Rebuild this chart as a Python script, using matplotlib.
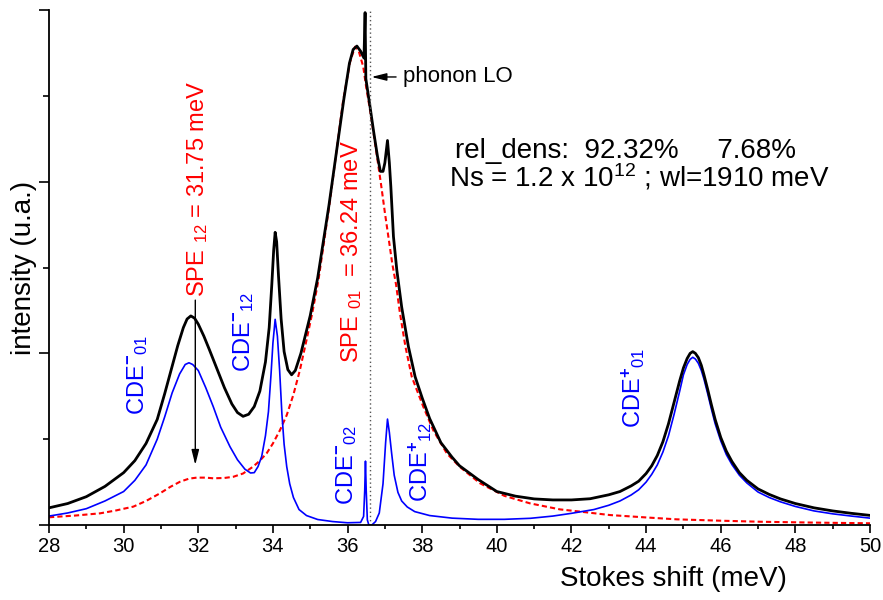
import matplotlib
matplotlib.use("Agg")
import matplotlib.pyplot as plt
from matplotlib.ticker import MultipleLocator, NullFormatter

plt.rcParams['font.family'] = ['Liberation Sans', 'DejaVu Sans']
plt.rcParams['mathtext.fontset'] = 'custom'
plt.rcParams['mathtext.rm'] = 'Liberation Sans'
plt.rcParams['mathtext.it'] = 'Liberation Sans:italic'
plt.rcParams['mathtext.bf'] = 'Liberation Sans:bold'

# total spectrum (black)
black_x = [28.0, 28.5, 29.0, 29.5, 30.0, 30.3, 30.6, 30.9, 31.1, 31.3, 31.45, 31.6, 31.7, 31.8,
           31.9, 32.0, 32.15, 32.3, 32.5, 32.7, 32.9, 33.05, 33.2, 33.35, 33.5, 33.65, 33.8, 33.9,
           33.97, 34.02, 34.06, 34.1, 34.15, 34.22, 34.3, 34.4, 34.5, 34.6, 34.75, 35.0, 35.2,
           35.5, 35.7, 35.9, 36.05, 36.15, 36.25, 36.35, 36.44, 36.47, 36.49, 36.6, 36.7,
           36.8, 36.88, 36.95, 37.0, 37.07, 37.12, 37.16, 37.23, 37.32, 37.45, 37.63, 37.81, 38.0,
           38.2, 38.5, 38.8, 39.0, 39.5, 40.0, 40.5, 41.0, 41.5, 42.0, 42.5, 43.0, 43.3, 43.6,
           43.8, 44.0, 44.15, 44.3, 44.45, 44.6, 44.75, 44.9, 45.0, 45.1, 45.18, 45.25, 45.32,
           45.4, 45.48, 45.55, 45.65, 45.75, 45.85, 46.0, 46.15, 46.3, 46.5, 46.7, 47.0, 47.3,
           47.6, 48.0, 48.5, 49.0, 49.5, 50.0]
black_y = [0.100, 0.125, 0.165, 0.225, 0.305, 0.375, 0.475, 0.615, 0.765, 0.925, 1.045, 1.150,
           1.200, 1.218, 1.205, 1.170, 1.100, 1.020, 0.910, 0.800, 0.705, 0.655, 0.633, 0.645,
           0.690, 0.780, 0.950, 1.150, 1.400, 1.600, 1.705, 1.650, 1.450, 1.200, 1.010, 0.905,
           0.875, 0.900, 1.000, 1.220, 1.440, 1.860, 2.170, 2.480, 2.690, 2.770, 2.790, 2.760,
           2.720, 2.985, 2.600, 2.440, 2.290, 2.150, 2.060, 2.060, 2.110, 2.240, 2.110,
           1.970, 1.680, 1.485, 1.270, 1.040, 0.864, 0.740, 0.620, 0.480, 0.395, 0.345, 0.265,
           0.195, 0.168, 0.152, 0.146, 0.146, 0.153, 0.176, 0.195, 0.228, 0.255, 0.300, 0.345,
           0.405, 0.485, 0.590, 0.715, 0.840, 0.915, 0.970, 1.000, 1.010, 1.000, 0.975, 0.930,
           0.875, 0.790, 0.700, 0.615, 0.510, 0.430, 0.370, 0.305, 0.260, 0.210, 0.178, 0.152,
           0.125, 0.100, 0.082, 0.068, 0.056]

# coupled density excitations (blue)
blue_x = [28.0, 28.5, 29.0, 29.5, 30.0, 30.3, 30.6, 30.9, 31.1, 31.3, 31.5, 31.65, 31.75, 31.85,
          32.0, 32.2, 32.4, 32.6, 32.85, 33.05, 33.25, 33.4, 33.5, 33.6, 33.7, 33.8, 33.88, 33.95,
          34.0, 34.06, 34.12, 34.18, 34.24, 34.3, 34.37, 34.45, 34.55, 34.7, 34.9, 35.2, 35.6,
          36.0, 36.35, 36.43, 36.46, 36.48, 36.5, 36.53, 36.57, 36.65, 36.75, 36.85, 36.95, 37.02,
          37.07, 37.12, 37.18, 37.25, 37.35, 37.45, 37.6, 37.8, 38.2, 38.8, 39.5, 40.2, 40.9,
          41.5, 42.0, 42.6, 43.0, 43.3, 43.6, 43.8, 44.0, 44.15, 44.3, 44.45, 44.6, 44.75, 44.9,
          45.0, 45.1, 45.18, 45.25, 45.32, 45.4, 45.48, 45.55, 45.65, 45.75, 45.85, 46.0, 46.15,
          46.3, 46.5, 46.7, 47.0, 47.3, 47.6, 48.0, 48.5, 49.0, 49.5, 50.0]
blue_y = [0.052, 0.070, 0.095, 0.140, 0.195, 0.260, 0.350, 0.500, 0.630, 0.770, 0.880, 0.935,
          0.945, 0.935, 0.900, 0.800, 0.690, 0.570, 0.456, 0.380, 0.325, 0.303, 0.305, 0.340,
          0.400, 0.520, 0.660, 0.880, 1.060, 1.198, 1.100, 0.900, 0.650, 0.470, 0.340, 0.240,
          0.160, 0.090, 0.055, 0.032, 0.020, 0.013, 0.015, 0.050, 0.200, 0.372, 0.200, 0.030,
          0.000, 0.000, 0.020, 0.070, 0.240, 0.480, 0.617, 0.540, 0.420, 0.290, 0.190, 0.140,
          0.105, 0.078, 0.055, 0.040, 0.033, 0.033, 0.039, 0.052, 0.068, 0.090, 0.115, 0.140,
          0.175, 0.205, 0.250, 0.295, 0.350, 0.425, 0.520, 0.645, 0.780, 0.875, 0.935, 0.965,
          0.977, 0.967, 0.942, 0.900, 0.850, 0.765, 0.675, 0.590, 0.490, 0.410, 0.352, 0.290,
          0.245, 0.192, 0.160, 0.135, 0.108, 0.082, 0.065, 0.052, 0.040]

# single particle excitations (red dashed)
red_x = [28.0, 28.7, 29.37, 29.8, 30.26, 30.6, 30.97, 31.25, 31.51, 31.75, 31.96, 32.2, 32.4,
         32.7, 32.94, 33.2, 33.47, 33.65, 33.83, 34.0, 34.19, 34.37, 34.55, 34.72, 34.9, 35.05,
         35.22, 35.53, 35.88, 36.07, 36.2, 36.3, 36.42, 36.5, 36.6, 36.7, 36.8, 36.9, 37.0,
         37.1, 37.2, 37.3, 37.4, 37.55, 37.72, 37.85, 38.03, 38.3, 38.66, 39.0, 39.55, 40.2,
         40.89, 41.69, 42.23, 43.03, 44.0, 44.82, 46.0, 47.05, 48.5, 50.0]
red_y = [0.045, 0.055, 0.068, 0.085, 0.107, 0.140, 0.184, 0.222, 0.252, 0.270, 0.276, 0.276,
         0.272, 0.274, 0.281, 0.300, 0.340, 0.375, 0.417, 0.475, 0.553, 0.640, 0.760, 0.900,
         1.077, 1.230, 1.427, 1.890, 2.470, 2.700, 2.786, 2.760, 2.670, 2.550, 2.420, 2.280,
         2.130, 1.980, 1.820, 1.670, 1.520, 1.400, 1.240, 1.040, 0.864, 0.790, 0.689, 0.550,
         0.417, 0.340, 0.243, 0.170, 0.126, 0.091, 0.078, 0.058, 0.044, 0.033, 0.025, 0.019,
         0.014, 0.010]

phonon_lo = 36.6

fig = plt.figure(figsize=(8.83, 6.0), dpi=100)
ax = fig.add_axes([0.0555, 0.125, 0.9298, 0.8583])

ax.plot(red_x, red_y, color='#FF0000', lw=1.5, ls=(0, (2.5, 1.5)))
ax.plot(blue_x, blue_y, color='#0000FF', lw=1.2)
ax.plot(black_x, black_y, color='black', lw=2.0, solid_joinstyle='round')
ax.axvline(phonon_lo, color='#555555', lw=1.0, ls=(0, (1, 2)))

ax.set_xlim(28, 50)
ax.set_ylim(0, 3)
ax.spines['top'].set_visible(False)
ax.spines['right'].set_visible(False)
for s in ['left', 'bottom']:
    ax.spines[s].set_linewidth(1.3)

ax.xaxis.set_major_locator(MultipleLocator(2))
ax.xaxis.set_minor_locator(MultipleLocator(1))
ax.yaxis.set_major_locator(MultipleLocator(1))
ax.yaxis.set_minor_locator(MultipleLocator(0.5))
ax.yaxis.set_major_formatter(NullFormatter())
ax.tick_params(axis='x', which='major', length=6, width=1.2, labelsize=14.5, pad=3)
ax.tick_params(axis='x', which='minor', length=3, width=1.2)
ax.tick_params(axis='y', which='major', length=7.5, width=1.2)
ax.tick_params(axis='y', which='minor', length=4.5, width=1.2)

ax.set_xlabel("Stokes shift (meV)", fontsize=20)
ax.xaxis.set_label_coords(0.76, -0.08)
ax.set_ylabel("intensity (u.a.)", fontsize=20)
ax.yaxis.set_label_coords(-0.015, 0.5)

red = '#FF0000'
blue = '#0000FF'
ax.text(31.99, 1.33, r"SPE $_{\mathregular{12}}$ = 31.75 meV", color=red, fontsize=17,
        rotation=90, ha='center', va='bottom')
ax.text(36.12, 0.944, r"SPE $_{\mathregular{01}}$  = 36.24 meV", color=red, fontsize=17,
        rotation=90, ha='center', va='bottom')

ax.text(30.36, 0.64, r"CDE$^{\mathbf{-}}$$_{\mathregular{01}}$", color=blue, fontsize=17,
        rotation=90, ha='center', va='bottom')
ax.text(33.2, 0.89, r"CDE$^{\mathbf{-}}$$_{\mathregular{12}}$", color=blue, fontsize=17,
        rotation=90, ha='center', va='bottom')
ax.text(35.96, 0.116, r"CDE$^{\mathbf{-}}$$_{\mathregular{02}}$", color=blue, fontsize=17,
        rotation=90, ha='center', va='bottom')
ax.text(37.94, 0.134, r"CDE$^{\mathbf{+}}$$_{\mathregular{12}}$", color=blue, fontsize=17,
        rotation=90, ha='center', va='bottom')
ax.text(43.65, 0.565, r"CDE$^{\mathbf{+}}$$_{\mathregular{01}}$", color=blue, fontsize=17,
        rotation=90, ha='center', va='bottom')

arrow = dict(arrowstyle='-|>,head_length=0.6,head_width=0.15', color='black', lw=1.0,
             mutation_scale=15, shrinkA=0, shrinkB=0)
ax.annotate("", xy=(31.92, 0.35), xytext=(31.92, 1.31), arrowprops=arrow)
ax.annotate("", xy=(36.64, 2.61), xytext=(37.3, 2.61), arrowprops=arrow)
ax.text(37.48, 2.61, "phonon LO", fontsize=16, ha='left', va='center')

ax.text(38.88, 2.14, "rel_dens:  92.32%     7.68%", fontsize=20, ha='left', va='baseline')
ax.text(38.72, 1.97, r"Ns = 1.2 x 10$^{\mathregular{12}}$ ; wl=1910 meV", fontsize=20,
        ha='left', va='baseline')

fig.savefig("out.png", dpi=100)
